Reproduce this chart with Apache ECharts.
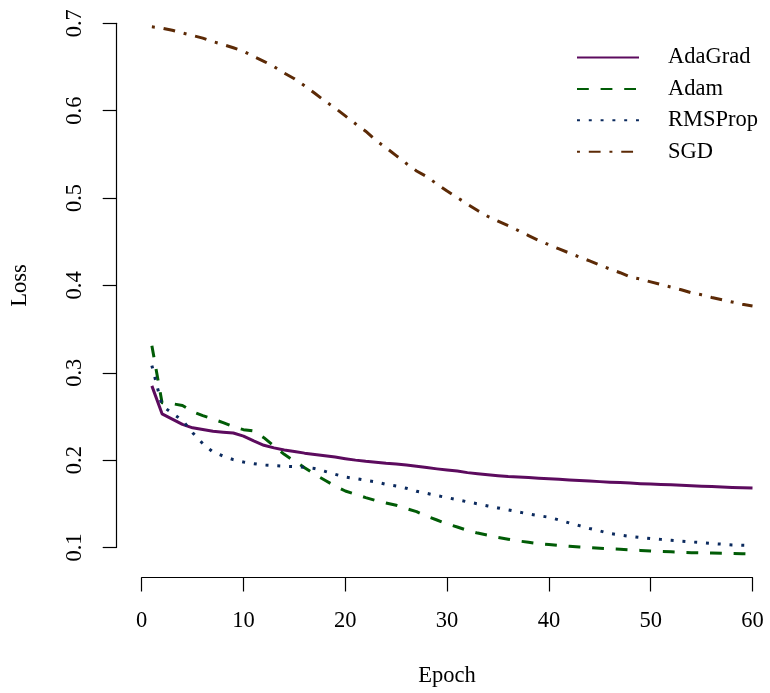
<!DOCTYPE html>
<html>
<head>
<meta charset="utf-8">
<script src="https://cdn.jsdelivr.net/npm/echarts@6/dist/echarts.min.js"></script>
<style>
  html, body { margin: 0; padding: 0; background: #ffffff; }
  #chart { width: 770px; height: 693px; }
</style>
</head>
<body>
<div id="chart"></div>
<script>
// Training loss per epoch for four optimisers
const epochs = Array.from({ length: 60 }, (_, i) => i + 1);

const adagrad = [
  0.285, 0.253, 0.247, 0.241, 0.237, 0.235, 0.233, 0.232, 0.231, 0.2275,
  0.222, 0.217, 0.214, 0.2115, 0.210, 0.208, 0.2065, 0.205, 0.2035, 0.2017,
  0.200, 0.1986, 0.1975, 0.1963, 0.1955, 0.1944, 0.193, 0.1915, 0.190, 0.1887,
  0.1875, 0.1857, 0.1845, 0.1833, 0.1822, 0.1812, 0.1806, 0.180, 0.1794, 0.1788,
  0.178, 0.1772, 0.1766, 0.176, 0.1754, 0.1748, 0.1743, 0.1737, 0.1731, 0.1727,
  0.1722, 0.1717, 0.1712, 0.1707, 0.1702, 0.1697, 0.1692, 0.1688, 0.1684, 0.168
];

const adam = [
  0.331, 0.2657, 0.2646, 0.2626, 0.2554, 0.2509, 0.247, 0.2429, 0.2383, 0.2349,
  0.2333, 0.2257, 0.2161, 0.2066, 0.199, 0.1914, 0.1838, 0.177, 0.1704, 0.1647,
  0.1609, 0.1571, 0.1537, 0.151, 0.1483, 0.1446, 0.1411, 0.1358, 0.1315, 0.127,
  0.1235, 0.1195, 0.1165, 0.1142, 0.1115, 0.1095, 0.1075, 0.106, 0.1043, 0.1033,
  0.1022, 0.1013, 0.1005, 0.0998, 0.0991, 0.0985, 0.0979, 0.0973, 0.0967, 0.0961,
  0.0955, 0.095, 0.0945, 0.0941, 0.0938, 0.0936, 0.0934, 0.0931, 0.0929, 0.0926
];

const rmsprop = [
  0.3083, 0.262, 0.2538, 0.2455, 0.2314, 0.2189, 0.2093, 0.2047, 0.2006, 0.1979,
  0.196, 0.1944, 0.1937, 0.1929, 0.1926, 0.1918, 0.1903, 0.1872, 0.1838, 0.1807,
  0.1789, 0.1769, 0.175, 0.1723, 0.1704, 0.1678, 0.1643, 0.162, 0.1594, 0.1571,
  0.1547, 0.1523, 0.150, 0.1476, 0.1453, 0.143, 0.1407, 0.1384, 0.1365, 0.1346,
  0.1315, 0.1281, 0.125, 0.1217, 0.119, 0.116, 0.1143, 0.1127, 0.1115, 0.1103,
  0.1093, 0.1083, 0.1074, 0.1064, 0.1055, 0.1046, 0.1038, 0.103, 0.1026, 0.1023
];

const sgd = [
  0.696, 0.6945, 0.692, 0.689, 0.686, 0.683, 0.679, 0.6757, 0.672, 0.668,
  0.662, 0.6565, 0.6505, 0.643, 0.6365, 0.6285, 0.620, 0.611, 0.603, 0.594,
  0.585, 0.5765, 0.566, 0.5575, 0.5485, 0.5395, 0.531, 0.5245, 0.516, 0.508,
  0.5005, 0.493, 0.4857, 0.479, 0.4735, 0.4683, 0.4628, 0.457, 0.4515, 0.4465,
  0.4417, 0.4371, 0.4325, 0.428, 0.4232, 0.4187, 0.4145, 0.4095, 0.4072, 0.404,
  0.401, 0.398, 0.395, 0.3915, 0.3892, 0.3862, 0.3835, 0.381, 0.3785, 0.3765
];

const seriesNames = ['AdaGrad', 'Adam', 'RMSProp', 'SGD'];
const xTicks = [0, 10, 20, 30, 40, 50, 60];
const yTicks = [0.1, 0.2, 0.3, 0.4, 0.5, 0.6, 0.7];

const FONT = '"Liberation Serif", "Times New Roman", serif';
const LW = 3;
const U = 2.95; // dash unit

function pairs(values) {
  return epochs.map((e, i) => [e, values[i]]);
}

function lineSeries(name, values, color, dash) {
  return {
    name: name,
    type: 'line',
    data: pairs(values),
    symbol: 'none',
    clip: false,
    smooth: false,
    lineStyle: { color: color, width: LW, type: dash, cap: 'butt', join: 'round' },
    itemStyle: { color: color },
    emphasis: { disabled: true }
  };
}

const chart = echarts.init(document.getElementById('chart'), null, { renderer: 'canvas' });

chart.setOption({
  animation: false,
  backgroundColor: '#ffffff',
  grid: { left: 141.7, right: 17.5, top: 23.3, bottom: 144.7, containLabel: false },
  xAxis: {
    type: 'value',
    min: xTicks[0],
    max: xTicks[xTicks.length - 1],
    interval: 10,
    offset: 30,
    name: 'Epoch',
    nameLocation: 'middle',
    nameGap: 87.5,
    nameTextStyle: { fontFamily: FONT, fontSize: 22.5, color: '#000' },
    axisLine: { show: true, onZero: false, lineStyle: { color: '#000', width: 1.2 } },
    axisTick: { show: true, inside: false, length: 14, lineStyle: { color: '#000', width: 1.2 } },
    axisLabel: {
      fontFamily: FONT, fontSize: 22.5, color: '#000', margin: 32.5,
      formatter: v => String(v)
    },
    splitLine: { show: false }
  },
  yAxis: {
    type: 'value',
    min: yTicks[0],
    max: yTicks[yTicks.length - 1],
    interval: 0.1,
    offset: 25,
    name: 'Loss',
    nameLocation: 'middle',
    nameGap: 85,
    nameRotate: 90,
    nameTextStyle: { fontFamily: FONT, fontSize: 22.5, color: '#000' },
    axisLine: { show: true, onZero: false, lineStyle: { color: '#000', width: 1.2 } },
    axisTick: { show: true, inside: false, length: 14, lineStyle: { color: '#000', width: 1.2 } },
    axisLabel: {
      fontFamily: FONT, fontSize: 22.5, color: '#000', margin: 30, rotate: 90,
      formatter: v => v.toFixed(1)
    },
    splitLine: { show: false }
  },
  legend: {
    show: true,
    orient: 'vertical',
    left: 571,
    top: 41,
    itemWidth: 62,
    itemHeight: 22,
    itemGap: 8.4,
    data: seriesNames,
    itemStyle: { opacity: 0 },
    textStyle: { fontFamily: FONT, fontSize: 22.5, color: '#000', padding: [0, 0, 0, 24] },
    selectedMode: false
  },
  series: [
    lineSeries(seriesNames[0], adagrad, '#5c0b5e', 'solid'),
    lineSeries(seriesNames[1], adam, '#015c06', [4 * U, 4 * U]),
    lineSeries(seriesNames[2], rmsprop, '#0b2a5e', [U, 3 * U]),
    lineSeries(seriesNames[3], sgd, '#5c2a06', [U, 3 * U, 4 * U, 3 * U])
  ]
});
</script>
</body>
</html>
